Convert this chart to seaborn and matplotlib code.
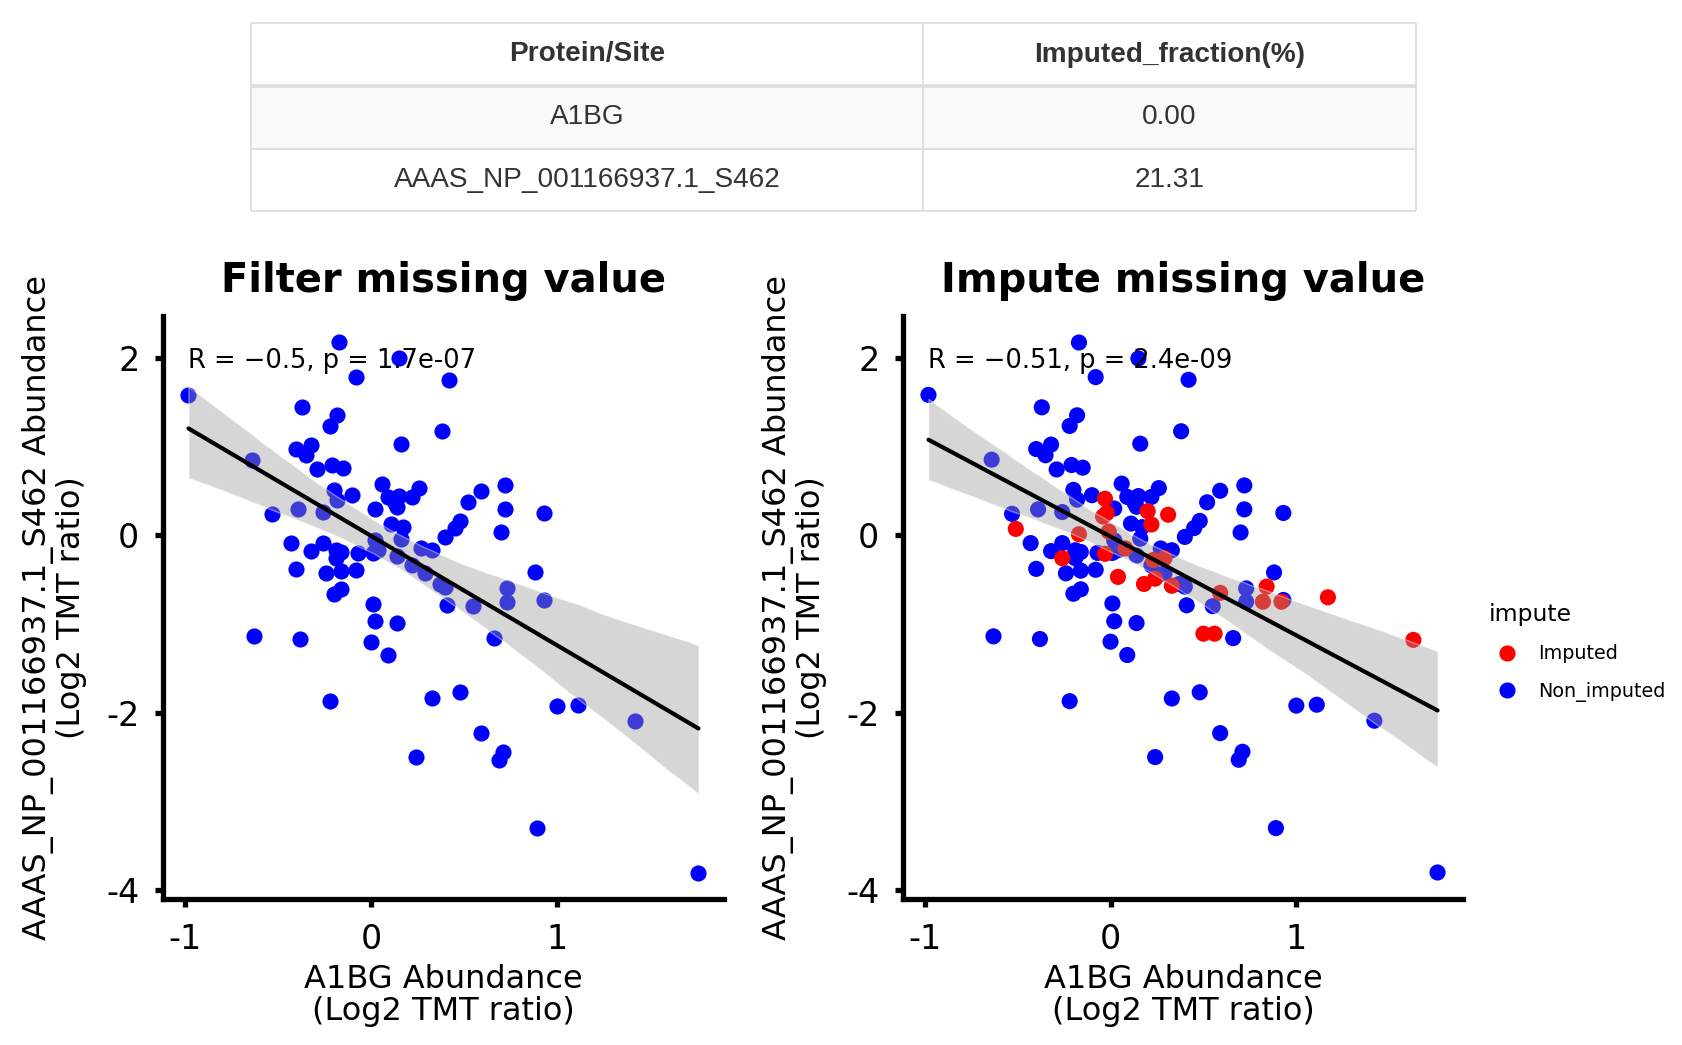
import numpy as np
import pandas as pd
import matplotlib
matplotlib.use("Agg")
import matplotlib.pyplot as plt
from matplotlib.patches import Rectangle
import seaborn as sns

# ---- table values ----
table_header = ["Protein/Site", "Imputed_fraction(%)"]
table_sites = ["A1BG", "AAAS_NP_001166937.1_S462"]
table_fraction = ["0.00", "21.31"]

# ---- scatter values ----
nonimp_x = [-0.17, 0.15, -0.08, 0.42, -0.98, -0.37, -0.18, -0.22, 0.38, 0.16,
            -0.32, -0.40, -0.35, -0.64, -0.29, -0.21, -0.15, 0.06, 0.26, -0.20,
            0.09, 0.15, 0.22, -0.10, -0.18, 0.13, 0.02, 0.14, -0.39, -0.53,
            -0.26, 0.11, 0.17, 0.40, 0.45, -0.43, -0.26, -0.32, -0.19, -0.16,
            -0.07, 0.02, 0.04, 0.01, 0.16, 0.14, 0.27, 0.33, -0.19, -0.40,
            -0.24, -0.16, -0.08, 0.22, 0.29, 0.37, 0.40, -0.16, -0.20, 0.01,
            0.41, 0.72, 0.59, 0.52, 0.72, 0.93, 0.48, 0.70, 0.88, 0.73,
            0.73, 0.93, 0.55, 0.66, 0.48, 0.33, 1.00, 1.11, 1.42, 0.59,
            0.71, 0.69, 0.89, 1.76, 0.02, 0.14, -0.63, -0.38, 0.00, 0.09,
            -0.22, 0.24]
nonimp_y = [2.17, 1.99, 1.78, 1.75, 1.58, 1.44, 1.35, 1.23, 1.17, 1.03,
            1.02, 0.97, 0.90, 0.85, 0.74, 0.79, 0.76, 0.58, 0.53, 0.51,
            0.43, 0.44, 0.43, 0.45, 0.40, 0.36, 0.30, 0.32, 0.29, 0.24,
            0.26, 0.13, 0.09, -0.02, 0.08, -0.09, -0.09, -0.18, -0.17, -0.19,
            -0.20, -0.06, -0.17, -0.20, -0.04, -0.23, -0.15, -0.17, -0.26, -0.38,
            -0.43, -0.40, -0.39, -0.34, -0.43, -0.55, -0.58, -0.61, -0.66, -0.77,
            -0.79, 0.56, 0.50, 0.37, 0.29, 0.25, 0.16, 0.03, -0.42, -0.60,
            -0.75, -0.73, -0.80, -1.16, -1.77, -1.84, -1.92, -1.91, -2.09, -2.23,
            -2.44, -2.53, -3.30, -3.80, -0.97, -0.99, -1.14, -1.17, -1.20, -1.35,
            -1.87, -2.50]
imp_x = [-0.51, -0.03, -0.02, -0.04, 0.20, 0.31, 0.22, -0.17, -0.01, -0.26,
         -0.03, 0.08, 0.23, 0.29, 0.04, 0.18, 0.24, 0.33, 0.59, 0.84,
         0.82, 0.92, 1.17, 0.50, 0.56, 1.63]
imp_y = [0.07, 0.41, 0.25, 0.21, 0.27, 0.23, 0.12, 0.01, 0.04, -0.26,
         -0.21, -0.15, -0.28, -0.26, -0.47, -0.55, -0.49, -0.57, -0.65, -0.58,
         -0.75, -0.75, -0.70, -1.11, -1.11, -1.18]

panel_titles = ["Filter missing value", "Impute missing value"]
cor_labels = ["R = \u22120.5, p = 1.7e-07", "R = \u22120.51, p = 2.4e-09"]
x_label = "A1BG Abundance\n(Log2 TMT ratio)"
y_label = "AAAS_NP_001166937.1_S462 Abundance\n(Log2 TMT ratio)"
hue_order = ["Imputed", "Non_imputed"]
palette = {"Imputed": "#FF0000", "Non_imputed": "#0000FF"}

filter_df = pd.DataFrame({"x": nonimp_x, "y": nonimp_y, "impute": "Non_imputed"})
impute_df = pd.concat([filter_df,
                       pd.DataFrame({"x": imp_x, "y": imp_y, "impute": "Imputed"})],
                      ignore_index=True)

sns.set_style("white")
plt.rcParams["font.family"] = ["DejaVu Sans"]
plt.rcParams["axes.unicode_minus"] = False
plt.rcParams["text.color"] = "black"
plt.rcParams["axes.labelcolor"] = "black"
plt.rcParams["xtick.color"] = "black"
plt.rcParams["ytick.color"] = "black"

W, H = 1683, 1045
fig = plt.figure(figsize=(W / 100, H / 100), dpi=100)


def px_box(x0, y0, x1, y1):
    # pixel box (top-left origin) -> figure fraction rect
    return [x0 / W, 1 - y1 / H, (x1 - x0) / W, (y1 - y0) / H]


# ---- table on top ----
col_edges = [251, 923, 1416]
row_edges = [23, 86, 149, 211]
tab = fig.add_axes(px_box(col_edges[0], row_edges[0], col_edges[-1], row_edges[-1]))
tab.set_xlim(col_edges[0], col_edges[-1])
tab.set_ylim(row_edges[-1], row_edges[0])
tab.axis("off")
tab.add_patch(Rectangle((col_edges[0], row_edges[1]), col_edges[-1] - col_edges[0],
                        row_edges[2] - row_edges[1], facecolor="#f9f9f9", edgecolor="none"))
tab.hlines([row_edges[0], row_edges[2], row_edges[3]], col_edges[0], col_edges[-1],
           color="#dddddd", lw=1.3, clip_on=False)
tab.hlines(row_edges[1], col_edges[0], col_edges[-1], color="#dddddd", lw=2.6, clip_on=False)
tab.vlines(col_edges, row_edges[0], row_edges[-1], color="#dddddd", lw=1.3, clip_on=False)
col_mid = [(col_edges[i] + col_edges[i + 1]) / 2 for i in range(2)]
row_mid = [(row_edges[i] + row_edges[i + 1]) / 2 for i in range(3)]
for j, h in enumerate(table_header):
    tab.text(col_mid[j], row_mid[0], h, ha="center", va="center", fontsize=20.2,
             fontweight="bold", color="#333333", family="Liberation Sans")
for i, (site, frac) in enumerate(zip(table_sites, table_fraction)):
    for j, val in enumerate([site, frac]):
        tab.text(col_mid[j], row_mid[i + 1], val, ha="center", va="center",
                 fontsize=20.2, color="#333333", family="Liberation Sans")

# ---- scatter panels ----
ax_left = fig.add_axes(px_box(163, 316, 724, 899))
ax_right = fig.add_axes(px_box(903, 316, 1463, 899))

for k, (ax, df) in enumerate([(ax_left, filter_df), (ax_right, impute_df)]):
    if k == 0:
        sns.scatterplot(data=df, x="x", y="y", color=palette["Non_imputed"], s=135,
                        linewidth=0, ax=ax, legend=False)
    else:
        sns.scatterplot(data=df, x="x", y="y", hue="impute", hue_order=hue_order,
                        palette=palette, s=135, linewidth=0, ax=ax)
    sns.regplot(data=df, x="x", y="y", scatter=False, color="black",
                line_kws={"linewidth": 3}, ax=ax, seed=7)
    band = ax.collections[-1]
    band.set_facecolor("#999999")
    band.set_alpha(0.4)

    xr = df["x"].max() - df["x"].min()
    yr = df["y"].max() - df["y"].min()
    ax.set_xlim(df["x"].min() - 0.05 * xr, df["x"].max() + 0.05 * xr)
    ax.set_ylim(df["y"].min() - 0.05 * yr, df["y"].max() + 0.05 * yr)
    ax.set_xticks([-1, 0, 1])
    ax.set_yticks([-4, -2, 0, 2])

    ax.text(df["x"].min(), 1.96, cor_labels[k], fontsize=18.5, ha="left", va="center")
    ax.set_title(panel_titles[k], fontsize=28.8, fontweight="bold", pad=17)
    ax.set_xlabel(x_label, fontsize=23, linespacing=1.05, labelpad=6)
    ax.set_ylabel(y_label, fontsize=23, linespacing=1.05, labelpad=14)

    for side in ["top", "right"]:
        ax.spines[side].set_visible(False)
    for side in ["left", "bottom"]:
        ax.spines[side].set_linewidth(3.8)
        ax.spines[side].set_color("black")
    ax.tick_params(axis="both", width=3.8, length=6, labelsize=24, pad=11,
                   colors="black", left=True, bottom=True)

sns.move_legend(ax_right, "upper left", bbox_to_anchor=(1.028, 0.524), frameon=False,
                title="impute", fontsize=13.8, title_fontsize=16.9, borderpad=0,
                handletextpad=0.6, labelspacing=0.95, alignment="left")

fig.savefig("out.png", dpi=100)
